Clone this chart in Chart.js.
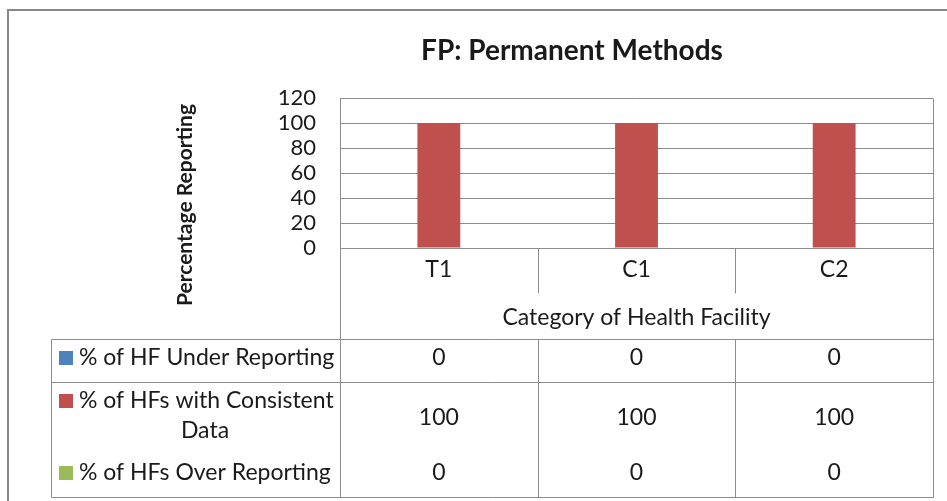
<!DOCTYPE html>
<html>
<head>
<meta charset="utf-8">
<script src="https://cdn.jsdelivr.net/npm/chart.js@4"></script>
<style>
  html, body { margin: 0; padding: 0; background: #fff; }
  #wrap { width: 947px; height: 501px; }
</style>
</head>
<body>
<div id="wrap"><canvas id="grafik" width="947" height="501"></canvas></div>
<script>
const categories = ['T1', 'C1', 'C2'];
const underReporting = [0, 0, 0];
const consistentData = [100, 100, 100];
const overReporting = [0, 0, 0];
const yMax = 120;
const yStep = 20;

const seriesNames = [
  ['% of HF Under Reporting'],
  ['% of HFs with Consistent', 'Data'],
  ['% of HFs Over Reporting']
];
const seriesColors = ['#4F81BD', '#C0504D', '#9BBB59'];

const FONT = 'Lato, "Open Sans", sans-serif';
const LINE = '#8c8c8c';
const TEXT = '#1a1a1a';

// draws the frame, titles and the data table under the plot
const tablePlugin = {
  id: 'tablePlugin',
  afterDraw(chart) {
    const ctx = chart.ctx;
    const area = chart.chartArea;
    const x = chart.scales.x;
    const L = area.left, R = area.right, B = area.bottom;
    const colW = (R - L) / categories.length;
    const tLeft = 51, rowA = 339, rowB = 382, tBottom = 497, catLine = 293;

    ctx.save();
    // outer frame
    ctx.strokeStyle = '#888';
    ctx.lineWidth = 2;
    ctx.beginPath();
    ctx.moveTo(8, 501); ctx.lineTo(8, 10); ctx.lineTo(947, 10);
    ctx.stroke();

    // title
    ctx.fillStyle = TEXT;
    ctx.textAlign = 'center';
    ctx.textBaseline = 'middle';
    ctx.font = 'bold 28px ' + FONT;
    ctx.fillText('FP: Permanent Methods', 572, 51);

    // y axis title
    ctx.save();
    ctx.translate(185, 205);
    ctx.rotate(-Math.PI / 2);
    ctx.font = 'bold 21px ' + FONT;
    ctx.fillText('Percentage Reporting', 0, 0);
    ctx.restore();

    // table lines
    ctx.strokeStyle = LINE;
    ctx.lineWidth = 1;
    const ln = (x1, y1, x2, y2) => {
      ctx.beginPath();
      ctx.moveTo(Math.round(x1) + 0.5, Math.round(y1) + 0.5);
      ctx.lineTo(Math.round(x2) + 0.5, Math.round(y2) + 0.5);
      ctx.stroke();
    };
    ln(L, area.top, L, tBottom);
    ln(R, area.top, R, tBottom);
    ln(L, B, R, B);
    for (let i = 1; i < categories.length; i++) {
      const xx = L + colW * i;
      ln(xx, B, xx, catLine);
      ln(xx, rowA, xx, tBottom);
    }
    ln(tLeft, rowA, R, rowA);
    ln(tLeft, rowB, R, rowB);
    ln(tLeft, tBottom, R, tBottom);
    ln(tLeft, rowA, tLeft, tBottom);

    // category labels
    ctx.font = '23px ' + FONT;
    ctx.fillStyle = TEXT;
    categories.forEach((c, i) => {
      ctx.fillText(c, x.getPixelForValue(i), 270);
    });
    ctx.fillText('Category of Health Facility', (L + R) / 2, 318);

    // rows
    const rowY = [358, 418, 473];
    const labelY = [[358], [401, 431], [473]];
    chart.data.datasets.forEach((ds, r) => {
      ctx.fillStyle = seriesColors[r];
      ctx.fillRect(59, labelY[r][0] - 7, 14, 14);
      ctx.fillStyle = TEXT;
      seriesNames[r].forEach((t, k) => {
        if (k === 0) {
          ctx.textAlign = 'left';
          ctx.fillText(t, 79, labelY[r][k]);
        } else {
          ctx.textAlign = 'center';
          ctx.fillText(t, 205, labelY[r][k]);
        }
      });
      ctx.textAlign = 'center';
      ds.data.forEach((v, i) => {
        ctx.fillText(String(v), x.getPixelForValue(i), rowY[r]);
      });
    });
    ctx.restore();
  }
};

new Chart(
  document.getElementById('grafik'),
  {
    type: 'bar',
    data: {
      labels: categories,
      datasets: [
        { label: seriesNames[0].join(' '), data: underReporting, backgroundColor: seriesColors[0] },
        { label: seriesNames[1].join(' '), data: consistentData, backgroundColor: seriesColors[1] },
        { label: seriesNames[2].join(' '), data: overReporting, backgroundColor: seriesColors[2] },
      ]
    },
    options: {
      responsive: false,
      animation: false,
      layout: { padding: { left: 0, right: 14, top: 98, bottom: 253 } },
      datasets: { bar: { categoryPercentage: 0.65, barPercentage: 1 } },
      plugins: {
        legend: { display: false },
        tooltip: { enabled: false }
      },
      scales: {
        x: { display: false },
        y: {
          min: 0,
          max: yMax,
          afterFit: (scale) => { scale.width = 340; },
          ticks: {
            stepSize: yStep,
            autoSkip: false,
            padding: 24,
            color: TEXT,
            font: { family: FONT, size: 22 }
          },
          grid: { color: LINE, drawTicks: false },
          border: { display: false }
        }
      }
    },
    plugins: [tablePlugin]
  }
);
</script>
</body>
</html>
